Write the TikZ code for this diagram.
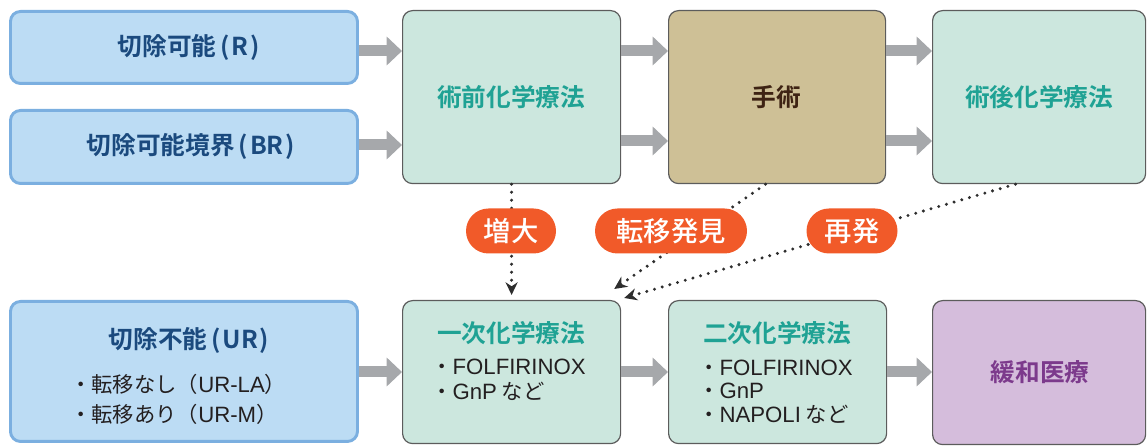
\documentclass[tikz,border=0pt]{standalone}
\usepackage{fontspec}
\usetikzlibrary{arrows.meta,calc,shapes.misc}
\newfontfamily\jp{Noto Sans CJK JP}[BoldFont={Noto Sans CJK JP Bold}]
\newfontfamily\jpm{Noto Sans CJK JP Medium}
\newfontfamily\lat{Liberation Sans}[Scale=1.04]
\definecolor{bluefill}{HTML}{BCDCF4}
\definecolor{blueline}{HTML}{7BAFE0}
\definecolor{bluetext}{HTML}{1B4A7E}
\definecolor{greenfill}{HTML}{CCE7DE}
\definecolor{greentext}{HTML}{1FA294}
\definecolor{tanfill}{HTML}{CEC096}
\definecolor{tantext}{HTML}{3E2313}
\definecolor{purplefill}{HTML}{D5BDDC}
\definecolor{purpletext}{HTML}{7C3A8C}
\definecolor{pillorange}{HTML}{F15A29}
\definecolor{arrowgray}{HTML}{A6A8AB}
\definecolor{boxline}{HTML}{5C5C5C}
\definecolor{listtext}{HTML}{231F20}
\definecolor{dotcol}{HTML}{2E2E2E}
\newcommand\openp{\hspace{3pt}(\hspace{1.5pt}}
\newcommand\closep{\hspace{1.5pt})}
\tikzset{
  boxbase/.style={rectangle, rounded corners=7.5pt, inner sep=0pt, anchor=north west},
  bluebox/.style={boxbase, fill=bluefill, draw=blueline, line width=2.2pt},
  greenbox/.style={boxbase, fill=greenfill, draw=boxline, line width=0.9pt},
  tanbox/.style={boxbase, fill=tanfill, draw=boxline, line width=0.9pt},
  purplebox/.style={boxbase, fill=purplefill, draw=boxline, line width=0.9pt},
  titletext/.style={inner sep=0pt, font=\jp\bfseries\fontsize{18.5pt}{22pt}\selectfont},
  bluetitle/.style={titletext, text=bluetext},
  greentitle/.style={titletext, text=greentext},
  listitem/.style={inner sep=0pt, anchor=west, text=listtext, font=\jp\fontsize{16pt}{19pt}\selectfont},
  pill/.style={rounded rectangle, fill=pillorange, text=white, inner sep=0pt,
    minimum height={45*0.75pt}, font=\jpm\fontsize{20.5pt}{24pt}\selectfont},
  fatarrow/.style={draw=arrowgray, line width=8.25pt, -{Triangle[length=11.5pt,width=21pt]}},
  dotarrow/.style={draw=dotcol, line width=2.5pt, line cap=round, dash pattern=on 0pt off 6pt,
    -{Stealth[length=9.5pt,width=9pt,inset=3pt]}},
}
\begin{document}
\begin{tikzpicture}[x=0.75pt,y=-0.75pt]
\useasboundingbox (0,0) rectangle (1147,448);
% boxes
\node[bluebox, minimum width={347*0.75pt}, minimum height={72*0.75pt}] (R) at (9,10) {};
\node[bluebox, minimum width={347*0.75pt}, minimum height={73*0.75pt}] (BR) at (9,109) {};
\node[bluebox, minimum width={347*0.75pt}, minimum height={140*0.75pt}] (UR) at (9,300) {};
\node[greenbox, minimum width={218*0.75pt}, minimum height={173*0.75pt}] (pre) at (402,10) {};
\node[tanbox, minimum width={217*0.75pt}, minimum height={173*0.75pt}] (op) at (668,10) {};
\node[greenbox, minimum width={213*0.75pt}, minimum height={173*0.75pt}] (post) at (932,10) {};
\node[greenbox, minimum width={218*0.75pt}, minimum height={143*0.75pt}] (first) at (402,300) {};
\node[greenbox, minimum width={218*0.75pt}, minimum height={143*0.75pt}] (second) at (668,300) {};
\node[purplebox, minimum width={213*0.75pt}, minimum height={144*0.75pt}] (pal) at (932,300) {};
% texts
\node[bluetitle] (tR) at (189,47) {切除可能\openp R\closep};
\node[bluetitle] (tBR) at (191,146) {切除可能境界\openp BR\closep};
\node[bluetitle] (tUR) at (189,340) {切除不能\openp UR\closep};
\node[listitem] (ur1) at (70,384) {・転移なし（{\lat UR-LA}）};
\node[listitem] (ur2) at (70,414) {・転移あり（{\lat UR-M}）};
\node[greentitle] (tpre) at (511,97) {術前化学療法};
\node[titletext, text=tantext] (top) at (776,97) {手術};
\node[greentitle] (tpost) at (1039,97) {術後化学療法};
\node[greentitle] (tfirst) at (511,333) {一次化学療法};
\node[listitem] (f1) at (431,367) {・{\lat FOLFIRINOX}};
\node[listitem] (f2) at (431,391) {・{\lat GnP} など};
\node[greentitle] (tsecond) at (777,333) {二次化学療法};
\node[listitem] (s1) at (698,368) {・{\lat FOLFIRINOX}};
\node[listitem] (s2) at (698,391) {・{\lat GnP}};
\node[listitem] (s3) at (698,414) {・{\lat NAPOLI} など};
\node[titletext, text=purpletext] (tpal) at (1040,372) {緩和医療};
% fat gray arrows
\coordinate (yA) at (0,51);
\coordinate (yB) at (0,141);
\coordinate (yC) at (0,145);
\coordinate (yD) at (0,372);
\draw[fatarrow] (R.east |- yA) -- (pre.west |- yA);
\draw[fatarrow] (BR.east |- yC) -- (pre.west |- yC);
\draw[fatarrow] (pre.east |- yA) -- (op.west |- yA);
\draw[fatarrow] (pre.east |- yB) -- (op.west |- yB);
\draw[fatarrow] (op.east |- yA) -- (post.west |- yA);
\draw[fatarrow] (op.east |- yB) -- (post.west |- yB);
\draw[fatarrow] (UR.east |- yD) -- (first.west |- yD);
\draw[fatarrow] (first.east |- yD) -- (second.west |- yD);
\draw[fatarrow] (second.east |- yD) -- (pal.west |- yD);
% dotted arrows
\draw[dotarrow] (pre.south) -- ($(first.north)+(0,-5)$);
\draw[dotarrow] ($(op.south west)!0.447!(op.south east)$) -- ($(first.north east)+(-7,-11)$);
\draw[dotarrow] ($(post.south west)!0.39!(post.south east)$) -- ($(first.north east)+(3,-2)$);
% pills
\node[pill, minimum width={90*0.75pt}] (p1) at (511,231) {増大};
\node[pill, minimum width={152*0.75pt}] (p2) at (671,231) {転移発見};
\node[pill, minimum width={91*0.75pt}] (p3) at (852,231) {再発};
\end{tikzpicture}
\end{document}
